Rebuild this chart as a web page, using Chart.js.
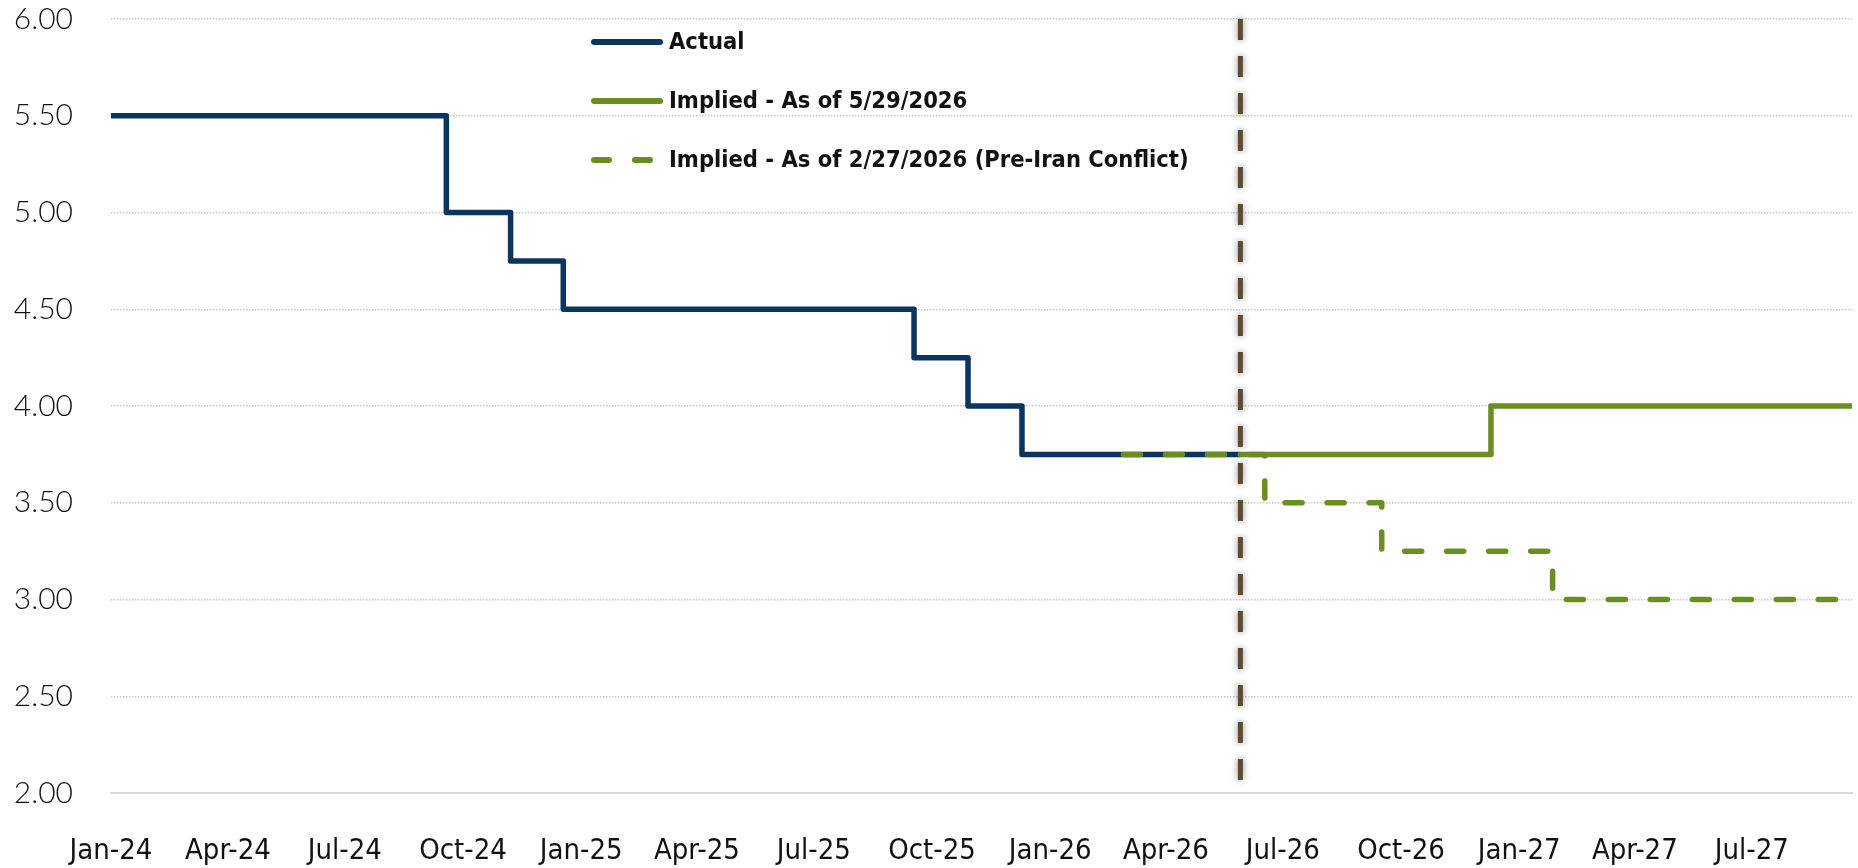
<!DOCTYPE html>
<html>
<head>
<meta charset="utf-8">
<script src="https://cdn.jsdelivr.net/npm/chart.js@4.4.1/dist/chart.umd.min.js"></script>
<style>
  html, body { margin: 0; padding: 0; background: #fff; }
  #wrap { width: 1858px; height: 868px; position: relative; }
</style>
</head>
<body>
<div id="wrap"><canvas id="rateChart"></canvas></div>
<script>
// Fed funds upper bound - actual path and market implied path
var actualDates  = ['2024-01-01', '2024-09-18', '2024-11-07', '2024-12-18', '2025-09-17', '2025-10-29', '2025-12-10', '2026-05-29'];
var actualValues = [5.50, 5.00, 4.75, 4.50, 4.25, 4.00, 3.75, 3.75];

var impliedNowDates  = ['2026-05-29', '2026-12-10', '2027-09-17'];
var impliedNowValues = [3.75, 4.00, 4.00];

var impliedPreDates  = ['2026-02-27', '2026-06-17', '2026-09-16', '2027-01-27', '2027-09-17'];
var impliedPreValues = [3.75, 3.50, 3.25, 3.00, 3.00];

var asOfDate = '2026-05-29';

var xStart = '2024-01-01';
var xEnd   = '2027-09-17';
var xTickDates  = ['2024-01-01', '2024-04-01', '2024-07-01', '2024-10-01', '2025-01-01', '2025-04-01', '2025-07-01', '2025-10-01',
                   '2026-01-01', '2026-04-01', '2026-07-01', '2026-10-01', '2027-01-01', '2027-04-01', '2027-07-01'];
var xTickLabels = ['Jan-24', 'Apr-24', 'Jul-24', 'Oct-24', 'Jan-25', 'Apr-25', 'Jul-25', 'Oct-25',
                   'Jan-26', 'Apr-26', 'Jul-26', 'Oct-26', 'Jan-27', 'Apr-27', 'Jul-27'];
var yMin = 2, yMax = 6, yStep = 0.5;

var seriesLabels = ['Actual', 'Implied - As of 5/29/2026', 'Implied - As of 2/27/2026 (Pre-Iran Conflict)'];

var condensed = '"DejaVu Sans Condensed", "DejaVu Sans", sans-serif';

// days since start of axis
function dayNum(s) {
  var p = s.split('-');
  var b = xStart.split('-');
  return (Date.UTC(+p[0], +p[1] - 1, +p[2]) - Date.UTC(+b[0], +b[1] - 1, +b[2])) / 864e5;
}
function pts(dates, vals) {
  return dates.map(function (d, i) { return { x: dayNum(d), y: vals[i] }; });
}

var navy = '#0b3561';
var green = '#6b8e23';
var brown = '#5e4a31';

// shadow around the "as of" marker line
var shadowPlugin = {
  id: 'shadowLine',
  beforeDatasetDraw: function (chart, args) {
    if (chart.data.datasets[args.index].isMarker) {
      chart.ctx.save();
      chart.ctx.shadowColor = 'rgba(0,0,0,0.45)';
      chart.ctx.shadowBlur = 7;
    }
  },
  afterDatasetDraw: function (chart, args) {
    if (chart.data.datasets[args.index].isMarker) {
      chart.ctx.restore();
    }
  }
};

// legend drawn inside the plot, top middle
var legendPlugin = {
  id: 'insideLegend',
  afterDraw: function (chart) {
    var ctx = chart.ctx;
    var rows = [42, 101, 160];
    chart.data.datasets.forEach(function (ds) {
      if (ds.isMarker) return;
      var i = seriesLabels.indexOf(ds.label);
      var y = rows[i];
      ctx.save();
      ctx.strokeStyle = ds.borderColor;
      ctx.lineWidth = 6;
      ctx.lineCap = 'round';
      ctx.setLineDash(ds.borderDash ? [15, 26] : []);
      ctx.beginPath();
      ctx.moveTo(594, y);
      ctx.lineTo(660, y);
      ctx.stroke();
      ctx.setLineDash([]);
      ctx.fillStyle = '#111';
      ctx.font = 'bold 23.5px ' + condensed;
      ctx.textBaseline = 'middle';
      ctx.textAlign = 'left';
      ctx.fillText(ds.label, 669, y + 1);
      ctx.restore();
    });
  }
};

var ctx = document.getElementById('rateChart').getContext('2d');

var myChart = new Chart(ctx, {
  type: 'line',
  data: {
    datasets: [
      {
        label: 'marker',
        isMarker: true,
        // drawn top to bottom so the dash pattern starts at the top
        data: [{ x: dayNum(asOfDate), y: yMax }, { x: dayNum(asOfDate), y: yMin }],
        borderColor: brown,
        borderWidth: 5,
        borderDash: [21, 16],
        borderCapStyle: 'butt',
        pointRadius: 0,
        clip: false,
        order: 0
      },
      {
        label: seriesLabels[2],
        data: pts(impliedPreDates, impliedPreValues),
        borderColor: green,
        borderWidth: 5.5,
        borderDash: [17, 25],
        borderCapStyle: 'round',
        borderJoinStyle: 'round',
        stepped: 'before',
        pointRadius: 0,
        order: 1
      },
      {
        label: seriesLabels[1],
        data: pts(impliedNowDates, impliedNowValues),
        borderColor: green,
        borderWidth: 5.5,
        borderCapStyle: 'round',
        borderJoinStyle: 'round',
        stepped: 'before',
        pointRadius: 0,
        order: 2
      },
      {
        label: seriesLabels[0],
        data: pts(actualDates, actualValues),
        borderColor: navy,
        borderWidth: 5.5,
        borderCapStyle: 'butt',
        borderJoinStyle: 'round',
        stepped: 'before',
        pointRadius: 0,
        order: 3
      }
    ]
  },
  options: {
    responsive: true,
    maintainAspectRatio: false,
    animation: false,
    layout: { padding: { top: 19, right: 6, left: 0, bottom: 0 } },
    plugins: {
      legend: { display: false },
      tooltip: { enabled: false }
    },
    scales: {
      x: {
        type: 'linear',
        min: dayNum(xStart),
        max: dayNum(xEnd),
        afterBuildTicks: function (scale) {
          scale.ticks = xTickDates.map(function (d) { return { value: dayNum(d) }; });
        },
        afterFit: function (scale) {
          scale.height = 75;
          scale.paddingLeft = 0;
          scale.paddingRight = 0;
        },
        grid: { display: false, drawTicks: false },
        border: { display: true, color: '#d9d9d9', width: 2 },
        ticks: {
          autoSkip: false,
          maxRotation: 0,
          padding: 41,
          color: '#111',
          font: { family: condensed, size: 29 },
          callback: function (value) {
            var i = xTickDates.map(dayNum).indexOf(value);
            return i >= 0 ? xTickLabels[i] : '';
          }
        }
      },
      y: {
        min: yMin,
        max: yMax,
        afterFit: function (scale) {
          scale.width = 111;
          scale.paddingTop = 0;
          scale.paddingBottom = 0;
        },
        grid: { color: '#c9c9c9', lineWidth: 1.5, drawTicks: false },
        border: { display: false, dash: [1.5, 1.5] },
        ticks: {
          stepSize: yStep,
          padding: 38,
          color: '#111',
          font: { family: 'Lato, "Open Sans", sans-serif', size: 30, weight: '300' },
          callback: function (value) { return value.toFixed(2); }
        }
      }
    }
  },
  plugins: [shadowPlugin, legendPlugin]
});
</script>
</body>
</html>
